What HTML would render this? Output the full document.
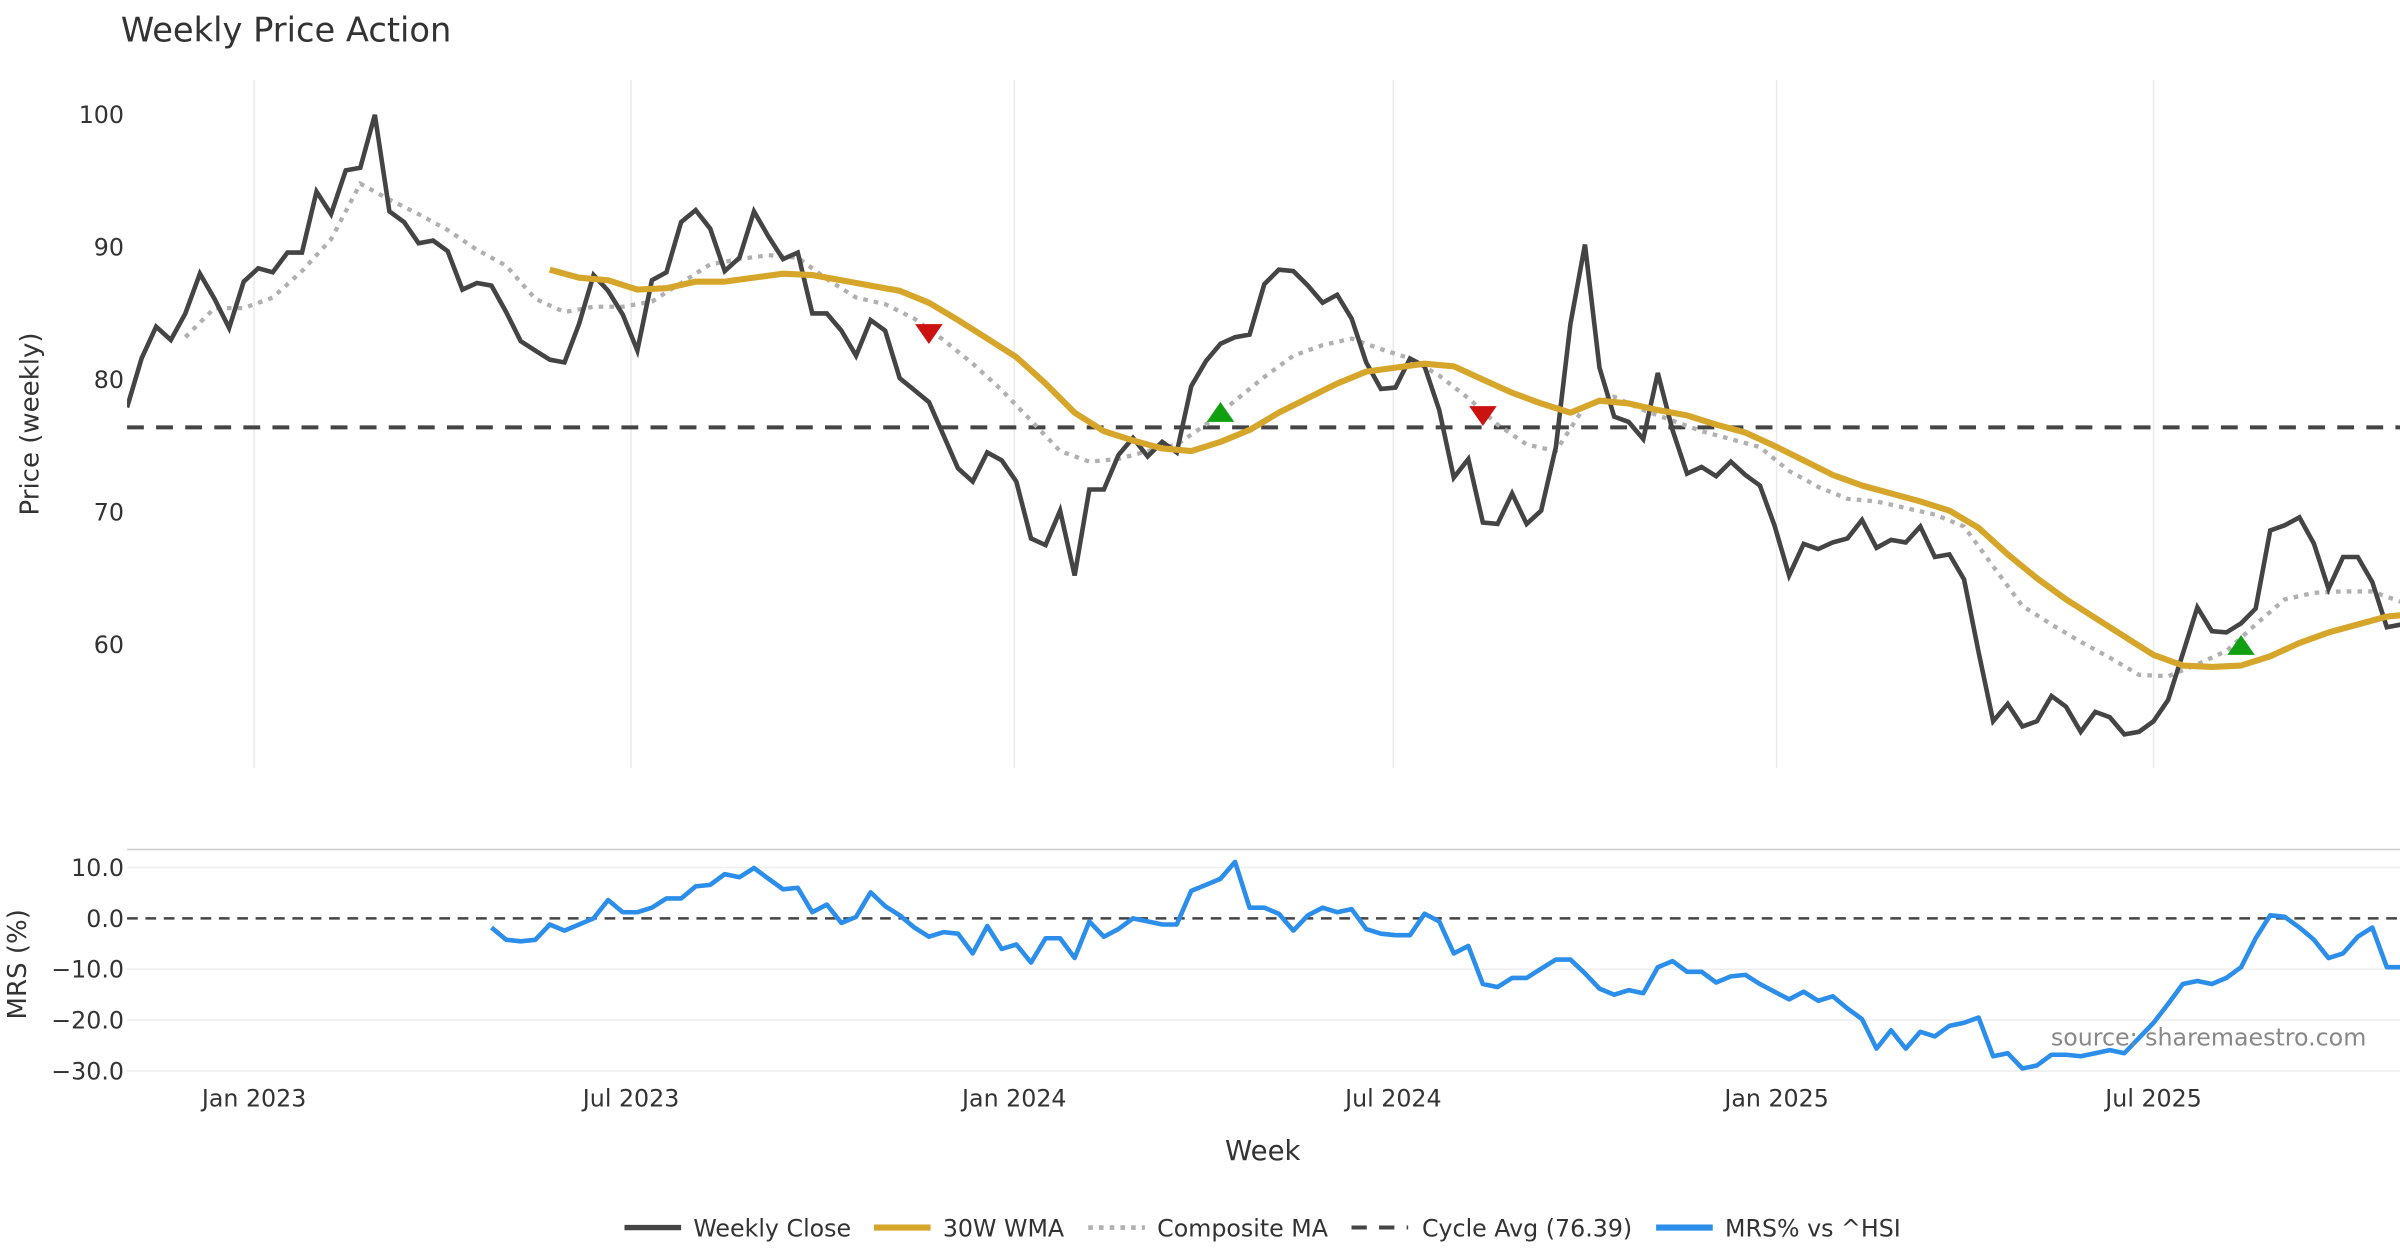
<!DOCTYPE html>
<html><head><meta charset="utf-8"><title>Weekly Price Action</title>
<style>
html,body{margin:0;padding:0;background:#fff;}
svg{display:block;font-family:"DejaVu Sans","Liberation Sans",sans-serif;}
</style></head>
<body>
<svg id="chart" width="2400" height="1260" viewBox="0 0 1568 823.2" xmlns="http://www.w3.org/2000/svg">
<defs>
<clipPath id="clipMain"><rect x="83" y="40" width="1485" height="470"/></clipPath>
<clipPath id="clipLow"><rect x="83" y="556" width="1485" height="160"/></clipPath>
</defs>
<text x="79" y="27" font-size="22" fill="#333">Weekly Price Action</text>
<text transform="translate(25,277) rotate(-90)" text-anchor="middle" font-size="17" fill="#333">Price (weekly)</text>
<text transform="translate(17,630) rotate(-90)" text-anchor="middle" font-size="17" fill="#333">MRS (%)</text>
<text x="825" y="758" text-anchor="middle" font-size="18" fill="#333">Week</text>
<line x1="83" x2="1568" y1="555" y2="555" stroke="#ccc" stroke-width="1"/>
<g id="grid"></g>
<g id="main" clip-path="url(#clipMain)"></g>
<g id="low" clip-path="url(#clipLow)"></g>
<g id="axes"></g>
<text x="1546" y="683" text-anchor="end" font-size="15.5" fill="#888">source: sharemaestro.com</text>
<g id="legend"></g>
</svg>
<script>
// ---- data ----
const startDate = "2022-11-01";
const closeValues = [77.9,81.6,84.0,83.0,85.0,88.0,86.1,83.9,87.4,88.4,
88.1,89.6,89.6,94.2,92.5,95.8,96.0,100,92.7,91.9,
90.3,90.5,89.7,86.8,87.3,87.1,85.1,82.9,82.2,81.5,
81.3,84.2,87.9,86.7,84.9,82.2,87.5,88.1,91.9,92.8,
91.4,88.2,89.2,92.7,90.8,89.1,89.6,85.0,85.0,83.7,
81.8,84.5,83.7,80.1,79.2,78.3,75.8,73.3,72.3,74.5,
73.9,72.3,68.0,67.5,70.1,65.2,71.7,71.7,74.3,75.6,
74.2,75.3,74.5,79.5,81.4,82.7,83.2,83.4,87.2,88.3,
88.2,87.1,85.8,86.4,84.6,81.3,79.3,79.4,81.6,81.0,
77.7,72.6,74.0,69.2,69.1,71.4,69.1,70.1,74.9,84.2,
90.2,80.9,77.2,76.8,75.5,80.5,76.2,72.9,73.4,72.7,
73.8,72.8,72.0,69.0,65.2,67.6,67.2,67.7,68.0,69.4,
67.3,67.9,67.7,68.9,66.6,66.8,64.9,59.4,54.2,55.5,
53.8,54.2,56.1,55.3,53.4,54.9,54.5,53.2,53.4,54.2,
55.8,59.3,62.8,61.0,60.9,61.6,62.7,68.6,69.0,69.6,
67.6,64.2,66.6,66.6,64.7,61.3,61.5];
const wmaStart = 29, wmaStride = 2;
const wmaValues = [88.3,87.7,87.5,86.8,86.9,87.4,87.4,87.7,88.0,87.9,87.5,87.1,86.7,85.8,84.5,83.1,81.7,79.7,77.5,76.1,75.4,74.8,74.6,75.3,76.2,77.5,78.6,79.7,80.6,80.9,81.2,81.0,80.0,79.0,78.2,77.5,78.4,78.2,77.7,77.3,76.6,76.0,75.0,73.9,72.8,72.0,71.4,70.8,70.1,68.8,66.8,65.0,63.4,62.0,60.6,59.2,58.4,58.3,58.4,59.1,60.1,60.9,61.5,62.1,62.3];
const compStart = 4, compStride = 2;
const compValues = [83.2,85.4,85.4,86.2,88.2,90.6,94.8,93.6,92.5,91.3,89.8,88.6,86.1,85.1,85.5,85.5,85.9,87.3,88.7,89.1,89.4,89.2,87.6,86.2,85.7,84.6,83.0,81.2,79.2,76.9,74.6,73.8,74.0,74.6,75.1,76.6,78.4,80.2,81.8,82.6,83.1,82.3,81.6,80.3,78.6,76.6,75.1,74.6,78.0,78.7,77.7,76.9,76.1,75.5,74.9,73.1,71.9,71.0,70.8,70.3,69.8,68.9,65.9,62.9,61.5,60.2,59.0,57.7,57.6,58.5,59.5,61.5,63.4,63.9,64.0,64.0,63.2];
const cycleAvg = 76.39;
const mrsStart = 25;
const mrsValues = [-1.8,-4.2,-4.5,-4.2,-1.2,-2.4,-1.2,0,3.6,1.2,
1.2,2.1,3.9,3.9,6.3,6.6,8.7,8.1,9.9,7.8,
5.7,6.0,1.2,2.7,-0.9,0.3,5.1,2.4,0.6,-1.8,
-3.6,-2.7,-3.0,-6.9,-1.5,-6.0,-5.1,-8.7,-3.9,-3.9,
-7.8,-0.6,-3.6,-2.1,0,-0.6,-1.2,-1.2,5.4,6.6,
7.8,11.1,2.1,2.1,0.9,-2.4,0.6,2.1,1.2,1.8,
-2.1,-3.0,-3.3,-3.3,0.9,-0.6,-6.9,-5.4,-12.9,-13.5,
-11.7,-11.7,-9.9,-8.1,-8.1,-10.8,-13.8,-15.0,-14.1,-14.7,
-9.6,-8.4,-10.5,-10.5,-12.6,-11.4,-11.1,-12.9,-14.4,-15.9,
-14.4,-16.2,-15.3,-17.7,-19.8,-25.6,-22.0,-25.6,-22.3,-23.2,
-21.1,-20.5,-19.5,-27.1,-26.5,-29.5,-28.9,-26.8,-26.8,-27.1,
-26.5,-25.9,-26.5,-23.5,-20.5,-16.8,-12.9,-12.3,-12.9,-11.7,
-9.6,-3.9,0.6,0.3,-1.8,-4.2,-7.8,-6.9,-3.6,-1.8,
-9.6,-9.6];
const sellIdx = [55,93];
const sellVals = [83.5,77.3];
const buyIdx = [75,145];
const buyVals = [77.5,59.9];
const priceTicks = [60,70,80,90,100];
const mrsTicks = [10,0,-10,-20,-30];
const mrsTickLabels = ["10.0","0.0","\u221210.0","\u221220.0","\u221230.0"];
const dateTicks = ["2023-01-01","2023-07-01","2024-01-01","2024-07-01","2025-01-01","2025-07-01"];
const dateTickLabels = ["Jan 2023","Jul 2023","Jan 2024","Jul 2024","Jan 2025","Jul 2025"];

// ---- scales ----
const NS="http://www.w3.org/2000/svg";
const DAY=86400000;
const refT=Date.parse("2023-01-01"), refX=166, pxPerDay=(1407-166)/((Date.parse("2025-07-01")-refT)/DAY);
function xDate(s){return refX+(Date.parse(s)-refT)/DAY*pxPerDay;}
const x0=xDate(startDate);
function xIdx(i){return x0+i*7*pxPerDay;}
function yP(v){return 75+(100-v)*8.65;}
function yM(v){return 600-v*3.325;}
function mk(tag,attrs,parent){const e=document.createElementNS(NS,tag);for(const k in attrs)e.setAttribute(k,attrs[k]);parent.appendChild(e);return e;}
function pathFrom(vals,start,stride,ys){return vals.map((v,k)=>(k?"L":"M")+xIdx(start+k*stride).toFixed(1)+","+ys(v).toFixed(1)).join("");}

const grid=document.getElementById('grid'),main=document.getElementById('main'),low=document.getElementById('low'),axes=document.getElementById('axes'),legend=document.getElementById('legend');

dateTicks.forEach((d,k)=>{
  const x=xDate(d);
  const g1=mk('line',{x1:x,x2:x,y1:52,y2:502,stroke:'#ebebeb','stroke-width':1},grid);
  
  
  const t=mk('text',{x:x,y:723,'text-anchor':'middle','font-size':15.5,fill:'#333'},axes);
  t.textContent=dateTickLabels[k];
  
  
});
priceTicks.forEach(v=>{
  const t=mk('text',{x:81,y:yP(v)+5.5,'text-anchor':'end','font-size':15.5,fill:'#333'},axes);
  t.textContent=String(v);
  
  
});
mrsTicks.forEach((v,k)=>{
  if(v!==0){
    const l=mk('line',{x1:83,x2:1568,y1:yM(v),y2:yM(v),stroke:'#eeeeee','stroke-width':1},grid);
    
    
  }
  const t=mk('text',{x:81,y:yM(v)+5.5,'text-anchor':'end','font-size':15.5,fill:'#333'},axes);
  t.textContent=mrsTickLabels[k];
  
  
});

const cyc=mk('line',{x1:83,x2:1568,y1:yP(cycleAvg),y2:yP(cycleAvg),stroke:'#444','stroke-width':2.6,'stroke-dasharray':'11,8'},main);


const comp=mk('path',{d:pathFrom(compValues,compStart,compStride,yP),fill:'none',stroke:'#b0b0b0','stroke-width':2.8,'stroke-dasharray':'3,4'},main);


const cl=mk('path',{d:pathFrom(closeValues,0,1,yP),fill:'none',stroke:'#444','stroke-width':3,'stroke-linejoin':'miter'},main);


const wma=mk('path',{d:pathFrom(wmaValues,wmaStart,wmaStride,yP),fill:'none',stroke:'#d6a62a','stroke-width':4,'stroke-linejoin':'round'},main);


sellIdx.forEach((i,k)=>{
  const x=xIdx(i),y=yP(sellVals[k]);
  const p=mk('polygon',{points:`${x-9},${y-6} ${x+9},${y-6} ${x},${y+7}`,fill:'#cc1111'},main);
  
  
});
buyIdx.forEach((i,k)=>{
  const x=xIdx(i),y=yP(buyVals[k]);
  const p=mk('polygon',{points:`${x-9},${y+6} ${x+9},${y+6} ${x},${y-7}`,fill:'#11a011'},main);
  
  
});

const z=mk('line',{x1:83,x2:1568,y1:yM(0),y2:yM(0),stroke:'#444','stroke-width':1.6,'stroke-dasharray':'7,5'},low);


const mrs=mk('path',{d:pathFrom(mrsValues,mrsStart,1,yM),fill:'none',stroke:'#2a8eea','stroke-width':3,'stroke-linejoin':'round'},low);



const legItems=[
 {x:408,tx:453,label:'Weekly Close',stroke:'#444',w:3.5,dash:null,name:'legend-weekly-close'},
 {x:571,tx:616,label:'30W WMA',stroke:'#d6a62a',w:4,dash:null,name:'legend-wma'},
 {x:711,tx:756,label:'Composite MA',stroke:'#b0b0b0',w:3,dash:'3,4',name:'legend-composite-ma'},
 {x:883,tx:929,label:'Cycle Avg (76.39)',stroke:'#444',w:2.6,dash:'10,8',name:'legend-cycle-avg'},
 {x:1082,tx:1127,label:'MRS% vs ^HSI',stroke:'#2a8eea',w:4,dash:null,name:'legend-mrs'}];
legItems.forEach(it=>{
  const g=mk('g',{},legend);
  
  
  const a={x1:it.x,x2:it.x+37,y1:802,y2:802,stroke:it.stroke,'stroke-width':it.w};
  if(it.dash)a['stroke-dasharray']=it.dash;
  mk('line',a,g);
  const t=mk('text',{x:it.tx,y:808,'font-size':15.5,fill:'#333'},g);
  t.textContent=it.label;
});
</script>
</body></html>
